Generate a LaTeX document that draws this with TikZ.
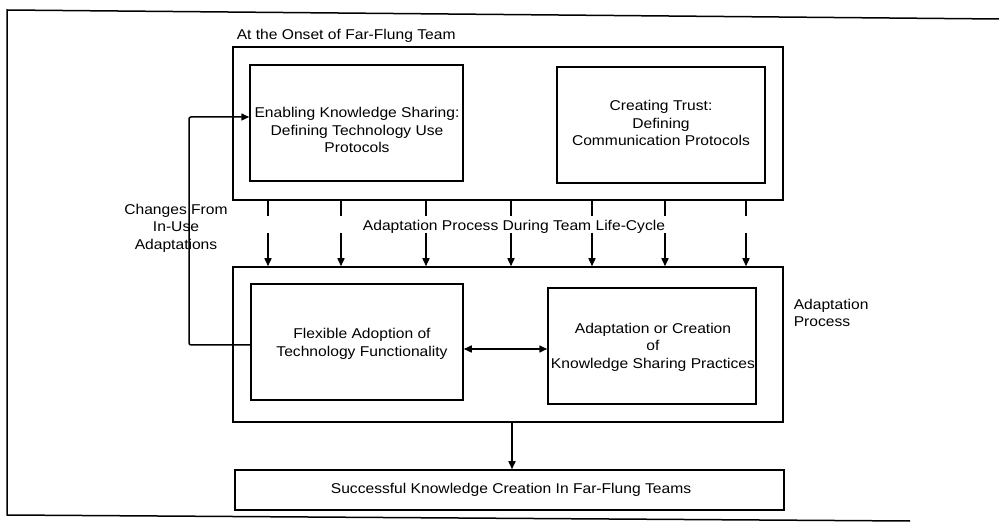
\documentclass[tikz,border=0pt]{standalone}
\usepackage{fontspec}
\setmainfont{Liberation Sans}[FakeStretch=1.1]
\usetikzlibrary{arrows.meta}
\begin{document}
\begin{tikzpicture}[x=1pt,y=-1pt,
  line width=1.5pt,
  every node/.style={font=\fontsize{14.2}{17.5}\selectfont, inner sep=0pt, align=center},
  frame/.style={draw, rectangle},
  tip/.style={-{Triangle[width=7pt,length=8pt]}},
  tips/.style={{Triangle[width=7pt,length=8pt]}-{Triangle[width=7pt,length=8pt]}}]
\useasboundingbox (0,0) rectangle (999,526);

% page frame (open on the right)
\draw (999,19) -- (7,10) -- (7,515) -- (910,521);

% onset phase
\node[frame, minimum width=550pt, minimum height=153pt] (onset) at (508,123.5) {};
\node[anchor=west] (onsetlbl) at (236,36) {At the Onset of Far-Flung Team};
\node[frame, minimum width=213pt, minimum height=116pt] (enable) at (356.5,123) {};
\node (enabletxt) at (357,130) {Enabling Knowledge Sharing:\\Defining Technology Use\\Protocols};
\node[frame, minimum width=208pt, minimum height=116pt] (trust) at (661,125) {};
\node (trusttxt) at (661,123) {Creating Trust:\\Defining\\Communication Protocols};

% adaptation phase
\node[frame, minimum width=550pt, minimum height=155pt] (adapt) at (508,344.5) {};
\node[frame, minimum width=212pt, minimum height=116pt] (flex) at (357,342) {};
\node (flextxt) at (362,344) {Flexible Adoption of\\Technology Functionality};
\node[frame, minimum width=208pt, minimum height=116pt] (practice) at (652,346) {};
\node (practicetxt) at (653,347) {Adaptation or Creation\\of\\Knowledge Sharing Practices};
\node[anchor=west, align=left] (adaptlbl) at (793,313) {Adaptation\\Process};

% outcome
\node[frame, minimum width=549pt, minimum height=40pt] (result) at (509.5,490) {};
\node (resulttxt) at (511,490) {Successful Knowledge Creation In Far-Flung Teams};

% life-cycle arrows
\node (cyclelbl) at (514,227) {Adaptation Process During Team Life-Cycle};
\foreach \xx in {268,341,426,511,592,665,746} {
  \draw (onset.south -| \xx,0) -- (\xx,216);
  \draw[tip] (\xx,233) -- (adapt.north -| \xx,0);
}

% feedback loop
\node (changes) at (176,228) {Changes From\\In-Use\\Adaptations};
\draw[tip, rounded corners=2pt] (flex.west |- 0,345) -- (189,345) -- (189,117) -- (enable.west |- 0,117);

% mutual influence
\draw[tips] (flex.east |- 0,349) -- (practice.west |- 0,349);

% to outcome
\draw[tip] (adapt.south -| 512,0) -- (result.north -| 512,0);
\end{tikzpicture}
\end{document}
